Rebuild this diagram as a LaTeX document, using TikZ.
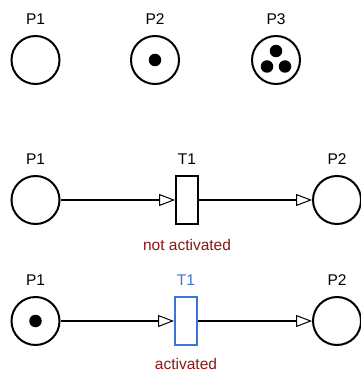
\documentclass[tikz,border=0pt]{standalone}
\usepackage{fontspec}
\setmainfont{Liberation Sans}
\usetikzlibrary{positioning}
\usetikzlibrary {arrows.meta}
\definecolor{fireblue}{HTML}{3B76D4}
\definecolor{statered}{HTML}{8E1414}
\tikzset{place/.style={circle,draw=black,line width=2pt,fill=white,
inner sep=0pt,minimum size=48pt}}
\tikzset{transition/.style={rectangle,draw=black,line width=2pt,fill=white,
inner sep=0pt,minimum height=48pt, minimum width=22pt}}
\tikzset{token/.style={circle,draw=none,fill=black,
inner sep=0pt,minimum size=12.5pt}}
\tikzset{netlabel/.style={rectangle,draw=none,
inner sep=0pt,font=\fontsize{15.5}{18}\selectfont}}
\tikzset{netarc/.style={line width=1.6pt,
-{Triangle[open,length=16pt,width=12pt,line width=1pt]}}}

\begin{document}
\begin{tikzpicture}[x=1pt,y=-1pt]
        \useasboundingbox (0,0) rectangle (360,374);

        % places with 0, 1 and 3 tokens
        \node[place] (placeA) at (35.5, 60) { };
        \node[place] (placeB) at (155, 60) { };
        \node[place] (placeC) at (276, 60) { };
        \node[netlabel] (placeAlbl) [above=10pt of placeA] {P1};
        \node[netlabel] (placeBlbl) [above=10pt of placeB] {P2};
        \node[netlabel] (placeClbl) [above=10pt of placeC] {P3};

        \node[token] (tokB) at (placeB) { };
        \node[token] (tokC1) at ([yshift=9pt]placeC) { };
        \node[token] (tokC2) at ([xshift=-9pt,yshift=-6.5pt]placeC) { };
        \node[token] (tokC3) at ([xshift=9pt,yshift=-6.5pt]placeC) { };

        % net with an empty input place
        \node[place] (netAin) at (35.5, 200) { };
        \node[transition] (netAtr) at (187, 200) { };
        \node[place] (netAout) at (337, 200) { };
        \node[netlabel] (netAinlbl) [above=10pt of netAin] {P1};
        \node[netlabel] (netAtrlbl) [above=10pt of netAtr] {T1};
        \node[netlabel] (netAoutlbl) [above=10pt of netAout] {P2};
        \node[netlabel,text=statered] (netAstate) [below=14pt of netAtr] {not activated};

        \draw [netarc] (netAin) -- (netAtr);
        \draw [netarc] (netAtr) -- (netAout);

        % same net, input place marked
        \node[place] (netBin) at (35.5, 321) { };
        \node[transition,draw=fireblue] (netBtr) at (186, 321) { };
        \node[place] (netBout) at (337, 321) { };
        \node[netlabel] (netBinlbl) [above=10pt of netBin] {P1};
        \node[netlabel,text=fireblue] (netBtrlbl) [above=10pt of netBtr] {T1};
        \node[netlabel] (netBoutlbl) [above=10pt of netBout] {P2};
        \node[netlabel,text=statered] (netBstate) [below=12.5pt of netBtr] {activated};

        \node[token] (tokBin) at (netBin) { };

        \draw [netarc] (netBin) -- (netBtr);
        \draw [netarc] (netBtr) -- (netBout);

    \end{tikzpicture}
\end{document}
